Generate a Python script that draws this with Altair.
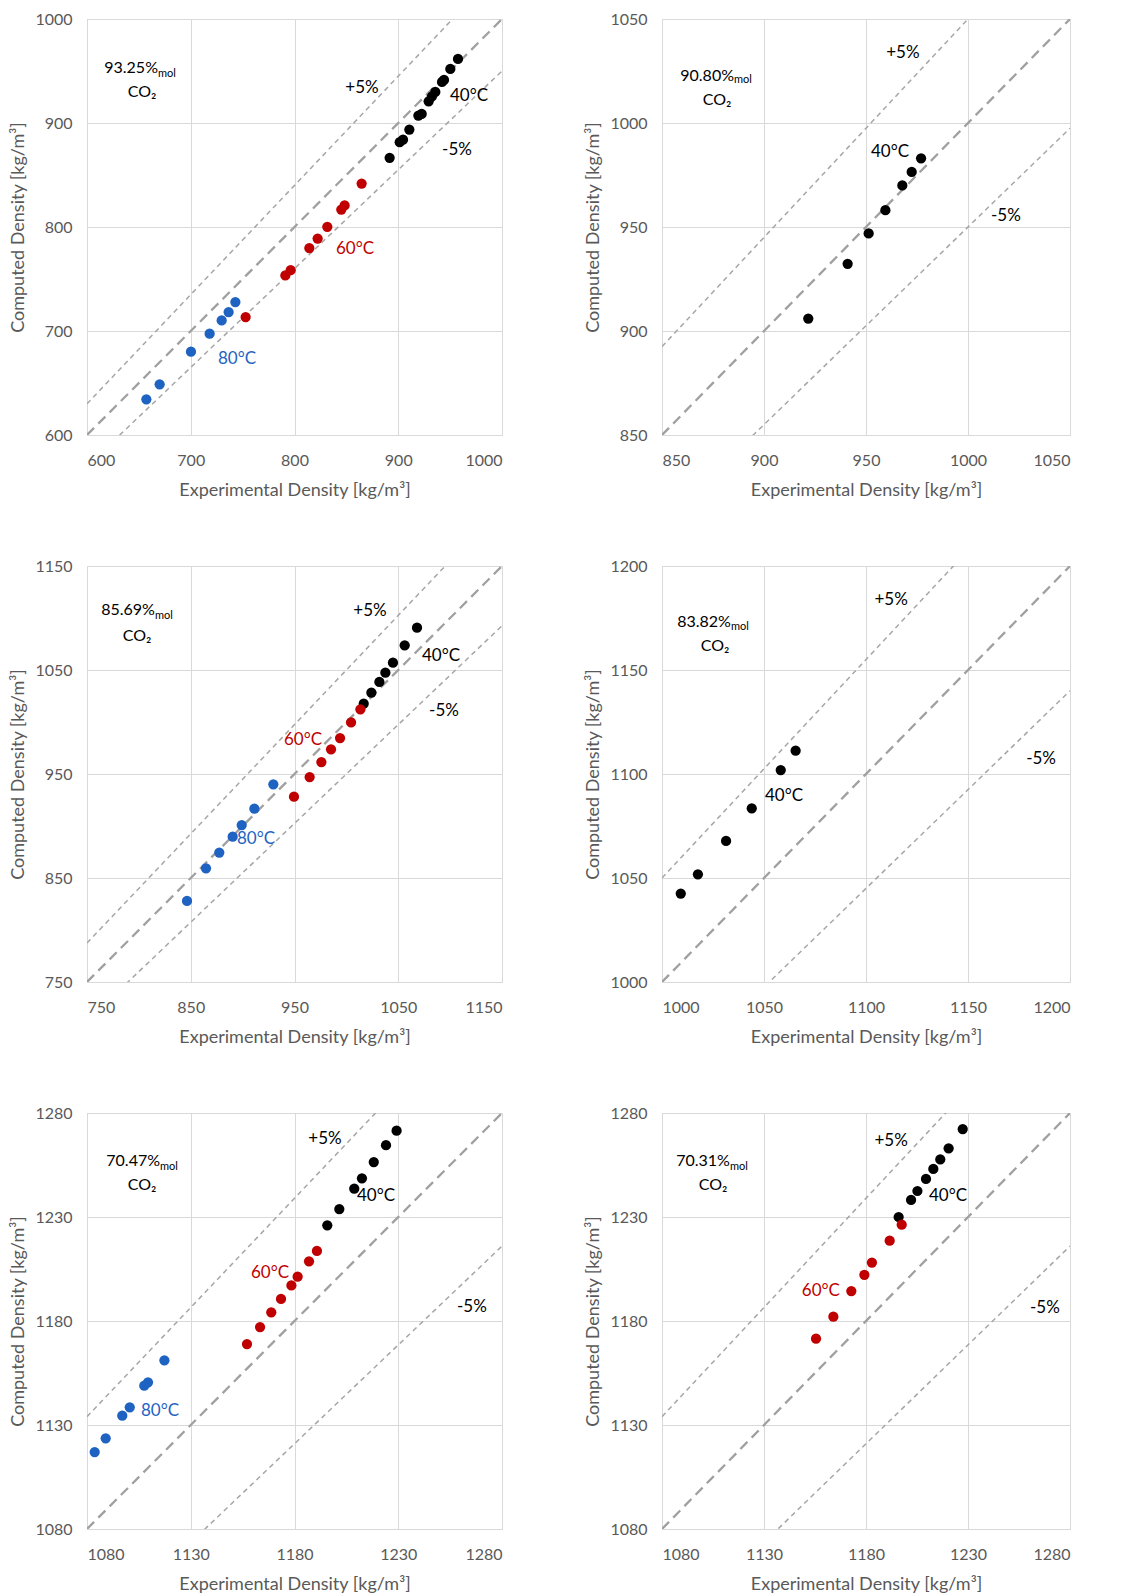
import altair as alt
import pandas as pd

# ---------------- data ----------------
# Panel 1: 93.25 %mol CO2
P1_40_X = [891.7, 901.4, 904.6, 910.7, 919.4, 922.6, 929.3, 932.5, 935.7, 942.2, 944.1, 950.2, 957.6]
P1_40_Y = [866.5, 881.5, 884.0, 893.7, 907.1, 908.7, 920.9, 925.7, 929.9, 939.5, 941.4, 952.0, 961.6]
P1_60_X = [752.9, 791.2, 796.3, 814.3, 822.3, 831.6, 845.1, 848.3, 864.7]
P1_60_Y = [713.4, 753.4, 758.5, 779.7, 788.9, 800.2, 816.8, 820.7, 841.8]
P1_80_X = [657.2, 670.0, 700.2, 718.2, 729.8, 736.5, 743.0]
P1_80_Y = [634.3, 648.7, 680.1, 697.4, 710.2, 718.2, 727.8]

# Panel 2: 90.80 %mol CO2
P2_40_X = [921.7, 941.0, 951.3, 959.5, 967.8, 972.4, 977.0]
P2_40_Y = [906.0, 932.3, 946.9, 958.1, 970.0, 976.5, 983.0]

# Panel 3: 85.69 %mol CO2
P3_40_X = [1068.1, 1056.2, 1044.9, 1037.6, 1031.8, 1024.1, 1016.7]
P3_40_Y = [1090.7, 1073.7, 1057.0, 1047.4, 1038.5, 1028.2, 1017.6]
P3_60_X = [1013.5, 1004.5, 993.9, 985.2, 975.9, 964.6, 949.5]
P3_60_Y = [1012.2, 999.6, 984.6, 973.7, 961.5, 947.0, 928.2]
P3_80_X = [929.6, 911.3, 899.1, 890.4, 877.5, 864.7, 846.4]
P3_80_Y = [940.1, 916.7, 900.9, 889.7, 874.4, 859.3, 827.9]

# Panel 4: 83.82 %mol CO2
P4_40_X = [1009.2, 1017.6, 1031.4, 1044.0, 1058.2, 1065.5]
P4_40_Y = [1042.5, 1051.8, 1067.8, 1083.5, 1101.9, 1111.2]

# Panel 5: 70.47 %mol CO2
P5_40_X = [1229.2, 1224.1, 1218.2, 1212.5, 1208.8, 1201.6, 1195.8]
P5_40_Y = [1271.5, 1264.5, 1256.4, 1248.6, 1243.6, 1233.8, 1226.0]
P5_60_X = [1190.8, 1187.0, 1181.5, 1178.5, 1173.5, 1168.8, 1163.4, 1157.1]
P5_60_Y = [1213.7, 1208.7, 1201.3, 1197.1, 1190.6, 1184.2, 1177.1, 1168.9]
P5_80_X = [1117.3, 1109.4, 1107.6, 1100.6, 1097.0, 1089.0, 1083.7]
P5_80_Y = [1161.1, 1150.5, 1148.9, 1138.5, 1134.5, 1123.6, 1117.0]

# Panel 6: 70.31 %mol CO2
P6_40_X = [1227.4, 1220.5, 1216.4, 1213.0, 1209.4, 1205.2, 1202.1, 1196.0]
P6_40_Y = [1272.3, 1263.0, 1257.7, 1253.1, 1248.3, 1242.5, 1238.2, 1230.0]
P6_60_X = [1197.5, 1191.6, 1182.9, 1179.2, 1172.8, 1164.0, 1155.5]
P6_60_Y = [1226.3, 1218.6, 1208.1, 1202.2, 1194.4, 1182.1, 1171.5]

COMPOSITIONS = ["93.25%", "90.80%", "85.69%", "83.82%", "70.47%", "70.31%"]
DOMAINS = [(600, 1000), (850, 1050), (750, 1150), (1000, 1200), (1080, 1280), (1080, 1280)]
TICKS = [
    [600, 700, 800, 900, 1000],
    [850, 900, 950, 1000, 1050],
    [750, 850, 950, 1050, 1150],
    [1000, 1050, 1100, 1150, 1200],
    [1080, 1130, 1180, 1230, 1280],
    [1080, 1130, 1180, 1230, 1280],
]
SERIES = [
    {"40°C": (P1_40_X, P1_40_Y), "60°C": (P1_60_X, P1_60_Y), "80°C": (P1_80_X, P1_80_Y)},
    {"40°C": (P2_40_X, P2_40_Y)},
    {"40°C": (P3_40_X, P3_40_Y), "60°C": (P3_60_X, P3_60_Y), "80°C": (P3_80_X, P3_80_Y)},
    {"40°C": (P4_40_X, P4_40_Y)},
    {"40°C": (P5_40_X, P5_40_Y), "60°C": (P5_60_X, P5_60_Y), "80°C": (P5_80_X, P5_80_Y)},
    {"40°C": (P6_40_X, P6_40_Y), "60°C": (P6_60_X, P6_60_Y)},
]
# composition label anchor (right end of number, in data units): x, y_number, y_mol, x_co2, y_co2
COMP_POS = [
    (668.4, 953.0, 947.0, 653.0, 930.0),
    (885.3, 1022.6, 1020.7, 877.0, 1011.0),
    (815.5, 1107.7, 1101.9, 798.2, 1082.7),
    (1033.8, 1173.1, 1170.7, 1026.0, 1161.5),
    (1115.2, 1256.9, 1254.0, 1106.5, 1245.4),
    (1113.3, 1256.9, 1254.0, 1105.0, 1245.4),
]
# annotation labels: (text, x, y, colour key)
LABELS = [
    [("+5%", 865.0, 933.8, "k"), ("40°C", 968.2, 926.1, "k"), ("-5%", 956.6, 874.3, "k"),
     ("60°C", 858.3, 778.4, "r"), ("80°C", 744.6, 672.9, "b")],
    [("+5%", 968.1, 1033.7, "k"), ("40°C", 961.8, 986.0, "k"), ("-5%", 1018.6, 955.3, "k")],
    [("+5%", 1022.8, 1106.7, "k"), ("40°C", 1091.2, 1063.5, "k"), ("-5%", 1094.1, 1010.6, "k"),
     ("60°C", 958.2, 982.7, "r"), ("80°C", 912.9, 887.5, "b")],
    [("+5%", 1112.3, 1183.7, "k"), ("40°C", 1059.8, 1089.4, "k"), ("-5%", 1185.8, 1107.2, "k")],
    [("+5%", 1194.7, 1267.5, "k"), ("40°C", 1219.3, 1240.1, "k"), ("-5%", 1265.5, 1186.7, "k"),
     ("60°C", 1168.2, 1203.1, "r"), ("80°C", 1115.2, 1136.7, "b")],
    [("+5%", 1192.3, 1266.5, "k"), ("40°C", 1220.2, 1240.1, "k"), ("-5%", 1267.7, 1186.3, "k"),
     ("60°C", 1157.9, 1194.4, "r")],
]
COLORS = {"k": "#000000", "r": "#C00000", "b": "#1F63C2"}
TEMP_DOMAIN = ["40°C", "60°C", "80°C"]
TEMP_RANGE = ["#000000", "#C00000", "#1F63C2"]
FONT = "Lato"

WIDTHS = [415, 408]
H = 416


def panel(i):
    lo, hi = DOMAINS[i]
    ticks = TICKS[i]
    xs = alt.Scale(domain=[lo, hi], nice=False, zero=False)
    ys = alt.Scale(domain=[lo, hi], nice=False, zero=False)
    xax = alt.Axis(values=ticks, format="d", title="Experimental Density [kg/m³]")
    yax = alt.Axis(values=ticks, format="d", title="Computed Density [kg/m³]")

    rows = []
    for t, (xv, yv) in SERIES[i].items():
        for a, b in zip(xv, yv):
            rows.append({"exp": a, "comp": b, "temp": t})
    pts = pd.DataFrame(rows)

    main = pd.DataFrame({"exp": [lo, hi], "comp": [lo, hi]})
    band_rows = []
    for k in (1.05, 0.95):
        for xv in (lo, hi):
            band_rows.append({"exp": xv, "comp": k * xv, "k": str(k)})
    band = pd.DataFrame(band_rows)

    base_x = alt.X("exp:Q", scale=xs, axis=xax)
    base_y = alt.Y("comp:Q", scale=ys, axis=yax)

    band_layer = alt.Chart(band).mark_line(
        clip=True, color="#A6A6A6", strokeWidth=1.5, strokeDash=[5, 4]
    ).encode(x=base_x, y=base_y, detail="k:N")
    main_layer = alt.Chart(main).mark_line(
        clip=True, color="#A0A0A0", strokeWidth=2.3, strokeDash=[10, 6]
    ).encode(x=base_x, y=base_y)
    pt_layer = alt.Chart(pts).mark_circle(size=105, opacity=1).encode(
        x=base_x, y=base_y,
        color=alt.Color("temp:N", scale=alt.Scale(domain=TEMP_DOMAIN, range=TEMP_RANGE), legend=None),
    )

    lab = pd.DataFrame(
        [{"txt": t, "exp": a, "comp": b, "col": COLORS[c]} for (t, a, b, c) in LABELS[i]]
    )
    lab_layer = alt.Chart(lab).mark_text(font=FONT, fontSize=17, baseline="middle").encode(
        x=alt.X("exp:Q", scale=xs), y=alt.Y("comp:Q", scale=ys), text="txt:N",
        color=alt.Color("col:N", scale=None),
    )

    cx, cy_num, cy_mol, co_x, co_y = COMP_POS[i]
    num = pd.DataFrame({"txt": [COMPOSITIONS[i]], "exp": [cx], "comp": [cy_num]})
    mol = pd.DataFrame({"txt": ["mol"], "exp": [cx], "comp": [cy_mol]})
    co2 = pd.DataFrame({"txt": ["CO₂"], "exp": [co_x], "comp": [co_y]})
    num_layer = alt.Chart(num).mark_text(font=FONT, fontSize=16, align="right", baseline="middle", color="#000000").encode(
        x=alt.X("exp:Q", scale=xs), y=alt.Y("comp:Q", scale=ys), text="txt:N")
    mol_layer = alt.Chart(mol).mark_text(font=FONT, fontSize=11, align="left", baseline="middle", color="#000000").encode(
        x=alt.X("exp:Q", scale=xs), y=alt.Y("comp:Q", scale=ys), text="txt:N")
    co2_layer = alt.Chart(co2).mark_text(font=FONT, fontSize=16, align="center", baseline="middle", color="#000000").encode(
        x=alt.X("exp:Q", scale=xs), y=alt.Y("comp:Q", scale=ys), text="txt:N")

    return alt.layer(band_layer, main_layer, pt_layer, lab_layer, num_layer, mol_layer, co2_layer).properties(
        width=WIDTHS[i % 2], height=H
    )


rows = []
for r in range(3):
    rows.append(alt.hconcat(panel(2 * r), panel(2 * r + 1), spacing=81))

chart = alt.vconcat(*rows, spacing=57).properties(
    padding={"left": 9, "top": 10, "right": 5, "bottom": 5},
    background="white",
).configure_axis(
    labelFont=FONT, titleFont=FONT, labelFontSize=16, titleFontSize=18,
    titleFontWeight="normal", labelColor="#595959", titleColor="#595959",
    gridColor="#D9D9D9", domainColor="#D9D9D9", ticks=False,
).configure_axisY(
    labelPadding=15, titlePadding=7,
).configure_axisX(
    labelPadding=17, titlePadding=13,
).configure_view(stroke="#D9D9D9")

chart.save("out.html", embed_options={"renderer": "svg", "actions": False})
